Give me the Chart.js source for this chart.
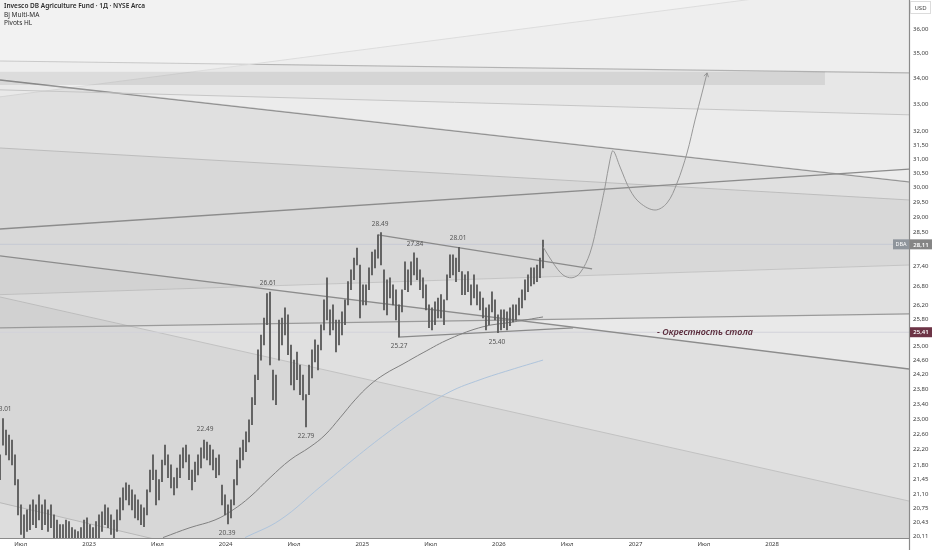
<!DOCTYPE html>
<html><head><meta charset="utf-8">
<script src="https://cdn.jsdelivr.net/npm/chart.js@4.4.1/dist/chart.umd.min.js"></script>
<style>html,body{margin:0;padding:0;background:#fff;}canvas{display:block;}</style>
</head><body>
<canvas id="c" width="932" height="550"></canvas>
<script>
// ---------- axis ranges ----------
const X_MIN = 2022.348, X_MAX = 2029.002;
const Y_MIN = 20.06, Y_MAX = 37.22;
const Y_TICKS = [36,35,34,33,32,31.5,31,30.5,30,29.5,29,28.5,27.4,26.8,26.2,25.8,25,24.6,24.2,23.8,23.4,23,22.6,22.2,21.8,21.45,21.1,20.75,20.43,20.11];
const X_TICKS = [2022.5,2023,2023.5,2024,2024.5,2025,2025.5,2026,2026.5,2027,2027.5,2028];
const X_TICK_LABELS = ['Июл','2023','Июл','2024','Июл','2025','Июл','2026','Июл','2027','Июл','2028'];

// ---------- price bars (about 8 calendar days each) ----------
const BAR_START = 2022.348;
const BAR_STEP = 0.02196;
const BAR_HIGH = [
22.07,23.01,22.71,22.58,22.45,22.07,21.45,20.84,20.60,20.72,
20.84,20.96,20.84,21.08,20.84,20.96,20.72,20.84,20.60,20.48,
20.37,20.37,20.48,20.44,20.30,20.25,20.21,20.30,20.48,20.53,
20.37,20.30,20.44,20.60,20.67,20.84,20.77,20.60,20.48,20.72,
21.01,21.25,21.37,21.32,21.20,21.08,20.96,20.84,20.77,21.20,
21.69,22.07,21.69,21.45,21.94,22.32,22.07,21.82,21.50,21.74,
22.07,22.25,22.32,22.07,21.69,21.89,22.07,22.25,22.45,22.40,
22.32,22.20,21.99,22.07,21.32,21.08,20.84,20.96,21.45,21.94,
22.25,22.45,22.66,22.98,23.57,24.19,24.90,25.33,25.83,26.56,
26.61,24.33,24.19,25.77,25.83,26.13,25.92,25.04,24.61,24.84,
24.47,24.19,23.65,24.47,24.90,25.19,25.04,25.63,26.37,27.05,
26.07,26.22,25.77,25.77,26.01,26.37,26.93,27.30,27.67,27.99,
27.45,26.83,26.83,27.36,27.86,27.93,28.42,28.49,27.30,26.99,
27.05,26.83,26.68,26.22,26.68,27.55,27.30,27.55,27.84,27.67,
27.30,27.05,26.83,26.22,26.13,26.31,26.43,26.53,26.37,27.14,
27.77,27.77,27.67,28.01,27.24,27.14,27.24,26.83,27.14,26.83,
26.62,26.43,26.13,26.22,26.62,26.37,25.92,26.07,26.07,26.01,
26.13,26.22,26.22,26.43,26.68,26.99,27.14,27.36,27.36,27.45,
27.67,28.25];
const BAR_LOW = [
21.45,22.32,22.07,21.94,21.82,21.32,20.60,20.14,20.07,20.21,
20.25,20.37,20.30,20.48,20.25,20.37,20.21,20.30,20.07,20.02,
19.91,19.91,19.98,19.91,19.84,19.79,19.75,19.84,19.98,20.02,
19.91,19.84,19.98,20.07,20.21,20.37,20.30,20.14,20.02,20.21,
20.48,20.72,20.96,20.84,20.72,20.53,20.48,20.37,20.32,20.60,
21.15,21.45,20.84,20.96,21.40,21.82,21.50,21.25,21.08,21.25,
21.50,21.74,21.89,21.45,21.20,21.40,21.57,21.74,21.99,21.94,
21.82,21.69,21.50,21.57,20.84,20.60,20.39,20.53,20.84,21.32,
21.74,21.94,22.15,22.40,22.85,23.38,24.06,24.61,25.04,25.63,
24.47,23.51,23.38,24.61,25.04,25.33,24.76,23.92,23.78,24.06,
23.65,23.51,22.79,23.65,24.11,24.56,24.33,24.90,25.48,25.77,
25.33,25.48,24.84,25.04,25.33,25.63,26.22,26.68,26.99,27.45,
25.83,26.22,26.22,26.68,27.14,27.36,27.67,27.45,26.07,25.92,
26.43,26.22,25.77,25.27,26.01,26.68,26.62,26.83,27.14,26.99,
26.68,26.43,26.07,25.54,25.48,25.63,25.83,25.83,25.63,26.37,
27.05,27.14,26.93,27.24,26.53,26.53,26.62,26.22,26.43,26.22,
26.07,25.83,25.48,25.63,26.01,25.77,25.40,25.48,25.54,25.48,
25.60,25.71,25.77,25.92,26.13,26.37,26.62,26.80,26.86,26.93,
27.05,27.36];

// ---------- moving averages ----------
const MA_SLOW_DATES = [2023.541,2023.739,2023.922,2024.054,2024.178,2024.325,2024.471,2024.617,2024.727,2024.837,2024.947,2025.057,2025.166,2025.298,2025.445,2025.642,2025.884,2026.103,2026.323];
const MA_SLOW = [20.07,20.30,20.48,20.72,21.03,21.50,21.94,22.27,22.58,23.03,23.51,23.92,24.22,24.50,24.82,25.22,25.57,25.71,25.86];
const MA_LONG_DATES = [2024.142,2024.398,2024.691,2024.947,2025.181,2025.423,2025.642,2025.862,2026.081,2026.323];
const MA_LONG = [20.07,20.48,21.27,21.99,22.63,23.24,23.73,24.06,24.33,24.61];

// ---------- projected path ----------
const PROJ_DATES = [2026.323,2026.396,2026.469,2026.535,2026.594,2026.667,2026.726,2026.777,2026.813,2026.836,2026.887,2026.960,2027.033,2027.143,2027.231,2027.304,2027.377,2027.436,2027.487,2027.524];
const PROJ = [28.03,27.52,27.14,27.05,27.20,27.83,28.91,30.03,30.97,31.30,30.72,29.92,29.48,29.24,29.48,30.16,31.22,32.43,33.45,34.23];

// ---------- pivots ----------
const PIVOT_DATES = [2022.372,2023.849,2024.010,2024.310,2024.588,2025.130,2025.269,2025.386,2025.701,2025.986];
const PIVOT_PRICES = [23.01,22.49,20.39,26.61,22.79,28.49,25.27,27.84,28.01,25.40];
const PIVOT_KIND = ['H','H','L','H','L','H','L','H','H','L'];

// ---------- drawn lines [date, price] ----------
const LINE_A = [[2022.348,33.30],[2029.002,38.14]];
const LINE_B = [[2022.348,34.70],[2029.002,34.23]];
const BAND_TOP = [[2022.348,34.27],[2028.387,34.27]];
const BAND_BOT = [[2022.348,33.76],[2028.387,33.76]];
const LINE_D = [[2022.348,33.57],[2029.002,32.62]];
const LINE_E = [[2022.348,33.95],[2029.002,30.20]];
const LINE_F = [[2022.348,31.40],[2029.002,29.58]];
const LINE_G = [[2022.348,28.61],[2029.002,30.65]];
const LINE_I = [[2025.115,28.42],[2026.682,27.33]];
const LINE_J = [[2022.348,26.53],[2029.002,27.45]];
const LINE_K = [[2022.348,27.74],[2029.002,24.36]];
const LINE_L = [[2022.348,25.54],[2029.002,25.95]];
const LINE_M = [[2022.348,26.46],[2029.002,20.93]];
const LINE_N = [[2022.348,20.89],[2023.812,19.79]];
const LINE_O = [[2025.262,25.27],[2026.543,25.54]];

const LAST_PRICE = 28.11;
const MARK_PRICE = 25.41;
const MARK_DATE = 2027.158;
const MARK_TEXT = '- Окрестность стола';
const TITLE_LINES = ['Invesco DB Agriculture Fund · 1Д · NYSE Arca','Bj Multi-MA','Pivots HL'];

// ---------- build datasets ----------
const FONT = '"Noto Sans", "DejaVu Sans", sans-serif';
const datasets = [];
function seg(p, color, w, extra) {
  const d = Object.assign({type:'line', data:p.map(([x,y])=>({x,y})), borderColor:color, borderWidth:w,
    pointRadius:0, fill:false, order:10, tension:0}, extra||{});
  datasets.push(d); return datasets.length-1;
}
seg(LINE_A, '#d4d4d4', 1, {fill:'end', backgroundColor:'rgba(255,255,255,0.30)', order:20});
seg(LINE_B, '#9e9e9e', 1.1, {fill:'end', backgroundColor:'rgba(255,255,255,0.30)', order:20});
const iE = seg(LINE_E, '#8e8e8e', 1.4, {fill:'end', backgroundColor:'rgba(255,255,255,0.22)', order:19});
seg(LINE_D, '#c6c6c6', 1, {fill:{target:iE, above:'rgba(255,255,255,0.22)', below:'rgba(0,0,0,0)'}, order:18});
const iBB = seg(BAND_BOT, 'rgba(0,0,0,0)', 0, {order:18});
seg(BAND_TOP, 'rgba(0,0,0,0)', 0, {fill:{target:iBB, above:'rgba(0,0,0,0.075)', below:'rgba(0,0,0,0.075)'}, order:18});
const iJ = seg(LINE_J, '#c4c4c4', 1, {order:17});
seg(LINE_F, '#bdbdbd', 1, {fill:{target:iJ, above:'rgba(0,0,0,0.035)', below:'rgba(0,0,0,0)'}, order:17});
seg(LINE_G, '#8c8c8c', 1.3, {order:10});
const iK = seg(LINE_K, '#8c8c8c', 1.4, {order:10});
seg(LINE_L, '#9a9a9a', 1.3, {fill:{target:iK, above:'rgba(255,255,255,0.30)', below:'rgba(0,0,0,0.025)'}, order:16});
seg(LINE_M, '#c2c2c2', 1, {fill:'start', backgroundColor:'rgba(0,0,0,0.04)', order:16});
seg(LINE_N, '#c0c0c0', 1, {fill:'start', backgroundColor:'rgba(255,255,255,0.22)', order:16});
seg([[X_MIN,LAST_PRICE],[X_MAX,LAST_PRICE]], '#c7cad4', 1, {order:12});
seg([[X_MIN,MARK_PRICE],[X_MAX,MARK_PRICE]], '#d2d2da', 1, {order:12});
seg(LINE_I, '#8a8a8a', 1.2, {order:9});
seg(LINE_O, '#8a8a8a', 1.2, {order:9});
datasets.push({type:'line', data:MA_SLOW_DATES.map((x,i)=>({x,y:MA_SLOW[i]})), borderColor:'#808080', borderWidth:1, pointRadius:0, tension:0.4, fill:false, order:5});
datasets.push({type:'line', data:MA_LONG_DATES.map((x,i)=>({x,y:MA_LONG[i]})), borderColor:'#aec4dc', borderWidth:1, pointRadius:0, tension:0.4, fill:false, order:5});
datasets.push({type:'bar', data:BAR_HIGH.map((h,i)=>({x:BAR_START+i*BAR_STEP, y:[BAR_LOW[i], h]})),
  backgroundColor:'#5c5c5c', barThickness:1.2, borderWidth:0, order:3});
datasets.push({type:'line', data:PROJ_DATES.map((x,i)=>({x,y:PROJ[i]})), borderColor:'#8e8e8e', borderWidth:0.9, pointRadius:0, tension:0.35, fill:false, order:1});

const fmt = v => v.toFixed(2).replace('.', ',');

const decor = {
  id:'decor',
  beforeDraw(chart){
    const {ctx, chartArea:ca} = chart;
    ctx.save();
    ctx.fillStyle = '#ffffff'; ctx.fillRect(0,0,chart.width,chart.height);
    ctx.fillStyle = '#e0e0e0'; ctx.fillRect(ca.left, ca.top, ca.right-ca.left, ca.bottom-ca.top);
    ctx.restore();
  },
  afterDraw(chart){
    const {ctx, chartArea:ca, scales:{x, y}} = chart;
    ctx.save();
    // arrow head of projection
    const n = PROJ.length;
    const x2 = x.getPixelForValue(PROJ_DATES[n-1]), y2 = y.getPixelForValue(PROJ[n-1]);
    const x1 = x.getPixelForValue(PROJ_DATES[n-2]), y1 = y.getPixelForValue(PROJ[n-2]);
    const ang = Math.atan2(y2-y1, x2-x1);
    ctx.strokeStyle = '#8e8e8e'; ctx.lineWidth = 0.9;
    ctx.beginPath();
    ctx.moveTo(x2 - 4.5*Math.cos(ang-0.55), y2 - 4.5*Math.sin(ang-0.55));
    ctx.lineTo(x2, y2);
    ctx.lineTo(x2 - 4.5*Math.cos(ang+0.55), y2 - 4.5*Math.sin(ang+0.55));
    ctx.stroke();

    // pivot labels
    ctx.font = '6.5px ' + FONT; ctx.fillStyle = '#555'; ctx.textAlign = 'center'; ctx.textBaseline = 'middle';
    PIVOT_DATES.forEach((d,i)=>{
      const px = x.getPixelForValue(d), py = y.getPixelForValue(PIVOT_PRICES[i]);
      ctx.fillText(PIVOT_PRICES[i].toFixed(2), px, PIVOT_KIND[i]==='H' ? py-9 : py+9.5);
    });

    // annotation
    ctx.font = 'italic 600 9px ' + FONT; ctx.fillStyle = '#5b2c3c'; ctx.textAlign = 'left';
    ctx.fillText(MARK_TEXT, x.getPixelForValue(MARK_DATE), y.getPixelForValue(MARK_PRICE));

    // title
    ctx.textAlign = 'left'; ctx.textBaseline = 'middle';
    ctx.fillStyle = '#2a2a2a';
    ctx.font = '600 6.5px ' + FONT; ctx.fillText(TITLE_LINES[0], 4, 6);
    ctx.font = '6.5px ' + FONT; ctx.fillText(TITLE_LINES[1], 4, 15); ctx.fillText(TITLE_LINES[2], 4, 23.5);

    // axes lines
    ctx.strokeStyle = '#8a8a8a'; ctx.lineWidth = 1.2;
    ctx.beginPath(); ctx.moveTo(ca.right+0.5, 0); ctx.lineTo(ca.right+0.5, chart.height); ctx.stroke();
    ctx.beginPath(); ctx.moveTo(0, ca.bottom+0.5); ctx.lineTo(ca.right, ca.bottom+0.5); ctx.stroke();

    // y tick labels
    ctx.font = '6px ' + FONT; ctx.fillStyle = '#3a3a3a'; ctx.textAlign = 'left';
    Y_TICKS.forEach(v=>{ ctx.fillText(fmt(v), ca.right+4, y.getPixelForValue(v)); });
    // x tick labels
    ctx.textAlign = 'center';
    X_TICKS.forEach((t,i)=>{ ctx.fillText(X_TICK_LABELS[i], x.getPixelForValue(t), ca.bottom+6); });

    // USD box
    ctx.strokeStyle = '#dcdcdc'; ctx.lineWidth = 1;
    ctx.strokeRect(ca.right+1.5, 1.5, 20, 12);
    ctx.fillStyle = '#444'; ctx.fillText('USD', ca.right+11.5, 8);

    // price tags
    const tag = (price, bg, label, labelBg) => {
      const py = y.getPixelForValue(price);
      ctx.fillStyle = bg; ctx.fillRect(ca.right+1, py-5, 22, 10);
      ctx.fillStyle = '#fff'; ctx.textAlign = 'center'; ctx.font = '600 6px ' + FONT;
      ctx.fillText(fmt(price), ca.right+12, py+0.5);
      if (label) {
        ctx.fillStyle = labelBg; ctx.fillRect(ca.right-16, py-5, 16, 10);
        ctx.fillStyle = '#fff'; ctx.font = '5.5px ' + FONT; ctx.fillText(label, ca.right-8, py+0.5);
      }
    };
    tag(LAST_PRICE, '#858585', 'DBA', '#8f959c');
    tag(MARK_PRICE, '#6d3446');
    ctx.restore();
  }
};

new Chart(document.getElementById('c'), {
  type:'line',
  data:{datasets},
  options:{
    responsive:false, animation:false, devicePixelRatio:1,
    layout:{padding:{left:0, top:0, right:23, bottom:12}},
    plugins:{legend:{display:false}, tooltip:{enabled:false}, filler:{propagate:false}},
    scales:{
      x:{type:'linear', min:X_MIN, max:X_MAX, bounds:'data', offset:false, display:false},
      y:{type:'logarithmic', min:Y_MIN, max:Y_MAX, bounds:'data', display:false}
    }
  },
  plugins:[decor]
});
</script>
</body></html>
